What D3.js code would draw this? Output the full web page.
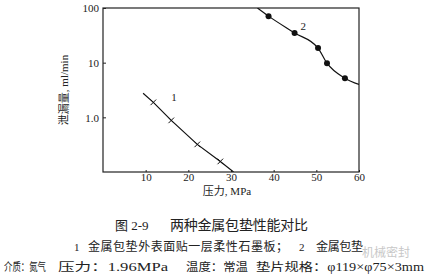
<!DOCTYPE html>
<html lang="zh">
<head>
<meta charset="UTF-8">
<title>两种金属包垫性能对比</title>
<script src="https://d3js.org/d3.v7.min.js"></script>
<style>
  body { margin: 0; padding: 0; background: #fff; }
  svg text { font-family: "Liberation Serif", "Noto Sans CJK SC", serif; fill: #222; }
</style>
</head>
<body>
<svg id="chart" width="426" height="278"></svg>
<script>
// curve 1: metal-jacketed gasket with flexible graphite layer (x markers)
const s1Pressure = [11.8, 16.0, 22.1, 27.5];
const s1Leak = [1.88, 0.88, 0.32, 0.156];
const s1Line = [[9.4, 2.75], [11.8, 1.88], [16.0, 0.88], [22.1, 0.32], [27.5, 0.156], [30.6, 0.1]];

// curve 2: plain metal-jacketed gasket (dots)
const s2Pressure = [38.8, 44.9, 50.4, 52.5, 56.7];
const s2Leak = [71, 35, 18.5, 9.8, 5.2];
const s2Line = [[36.2, 100], [38.8, 71], [44.9, 35], [50.4, 18.5], [52.5, 9.8], [56.7, 5.2], [60, 4.0]];

const xTicks = [10, 20, 30, 40, 50, 60];
const yTicks = [1, 10, 100];
const yTickLabels = ["1.0", "10", "100"];

const svg = d3.select("#chart");
const x = d3.scaleLinear().domain([0, 60]).range([103, 359]);
const y = d3.scaleLog().domain([0.1, 100]).range([172, 8]);

// frame
svg.append("rect")
  .attr("x", x(0)).attr("y", y(100))
  .attr("width", x(60) - x(0)).attr("height", y(0.1) - y(100))
  .attr("fill", "none").attr("stroke", "#222").attr("stroke-width", 1.2);

// axes
const xAxis = svg.append("g")
  .attr("transform", `translate(0,${y(0.1)})`)
  .call(d3.axisBottom(x).tickValues(xTicks).tickSizeInner(-2).tickSizeOuter(0).tickPadding(1));
const yAxis = svg.append("g")
  .attr("transform", `translate(${x(0)},0)`)
  .call(d3.axisLeft(y).tickValues(yTicks).tickFormat((d, i) => yTickLabels[i])
    .tickSizeInner(-3).tickSizeOuter(0).tickPadding(4));
[xAxis, yAxis].forEach(a => {
  a.select(".domain").remove();
  a.selectAll("line").attr("stroke", "#222");
  a.selectAll("text").attr("font-size", 11).attr("fill", "#222")
    .style("font-family", '"Liberation Serif", serif');
});
yAxis.selectAll("text").attr("dy", "0.35em");

svg.append("defs").append("clipPath").attr("id", "plot")
  .append("rect").attr("x", x(0)).attr("y", y(100))
  .attr("width", x(60) - x(0)).attr("height", y(0.1) - y(100));

const line1 = d3.line().x(d => x(d[0])).y(d => y(d[1]));
const line2 = d3.line().x(d => x(d[0])).y(d => y(d[1])).curve(d3.curveMonotoneX);

svg.append("path").datum(s1Line).attr("d", line1)
  .attr("clip-path", "url(#plot)")
  .attr("fill", "none").attr("stroke", "#111").attr("stroke-width", 1.2);
svg.append("path").datum(s2Line).attr("d", line2)
  .attr("clip-path", "url(#plot)")
  .attr("fill", "none").attr("stroke", "#111").attr("stroke-width", 1.2);

// x markers for curve 1
const cross = d3.symbol().type(d3.symbolX).size(22);
svg.selectAll(".m1").data(s1Pressure).join("path")
  .attr("class", "m1")
  .attr("transform", (d, i) => `translate(${x(d)},${y(s1Leak[i])})`)
  .attr("d", cross)
  .attr("fill", "none").attr("stroke", "#111").attr("stroke-width", 1);

// dots for curve 2
svg.selectAll(".m2").data(s2Pressure).join("circle")
  .attr("class", "m2")
  .attr("cx", d => x(d)).attr("cy", (d, i) => y(s2Leak[i]))
  .attr("r", 3).attr("fill", "#111");

// curve labels
svg.append("text").attr("x", x(16)).attr("y", y(1.95)).attr("font-size", 11).text("1");
svg.append("text").attr("x", x(46.3)).attr("y", y(40)).attr("font-size", 11).text("2");

// axis titles
svg.append("text")
  .attr("transform", "translate(68,90) rotate(-90)")
  .attr("text-anchor", "middle").attr("font-size", 11)
  .text("泄漏量, ml/min");
svg.append("text").attr("x", 227).attr("y", 195)
  .attr("text-anchor", "middle").attr("font-size", 11)
  .text("压力, MPa");

// caption
svg.append("text").attr("x", 115).attr("y", 230).attr("font-size", 13).text("图 2-9");
svg.append("text").attr("x", 170).attr("y", 230).attr("font-size", 14)
  .attr("textLength", 138).text("两种金属包垫性能对比");

svg.append("text").attr("x", 74).attr("y", 251).attr("font-size", 11).text("1");
svg.append("text").attr("x", 88).attr("y", 251).attr("font-size", 12)
  .attr("textLength", 200).text("金属包垫外表面贴一层柔性石墨板；");
svg.append("text").attr("x", 299).attr("y", 251).attr("font-size", 11).text("2");
svg.append("text").attr("x", 316).attr("y", 251).attr("font-size", 12)
  .attr("textLength", 47).text("金属包垫");

const notes = [["介质：氮气", 4, 42], ["压力：1.96MPa", 58, 110], ["温度：常温", 186, 62], ["垫片规格：φ119×φ75×3mm", 256, 168]];
svg.selectAll(".note").data(notes).join("text")
  .attr("class", "note")
  .attr("x", d => d[1]).attr("y", 271).attr("font-size", 11.5)
  .attr("textLength", d => d[2]).attr("lengthAdjust", "spacingAndGlyphs")
  .text(d => d[0]);

// faint watermark
svg.append("text").attr("x", 362).attr("y", 257).attr("font-size", 12)
  .style("fill", "#c8c8c8").style("font-family", '"Noto Sans CJK SC", sans-serif')
  .text("机械密封");
</script>
</body>
</html>
